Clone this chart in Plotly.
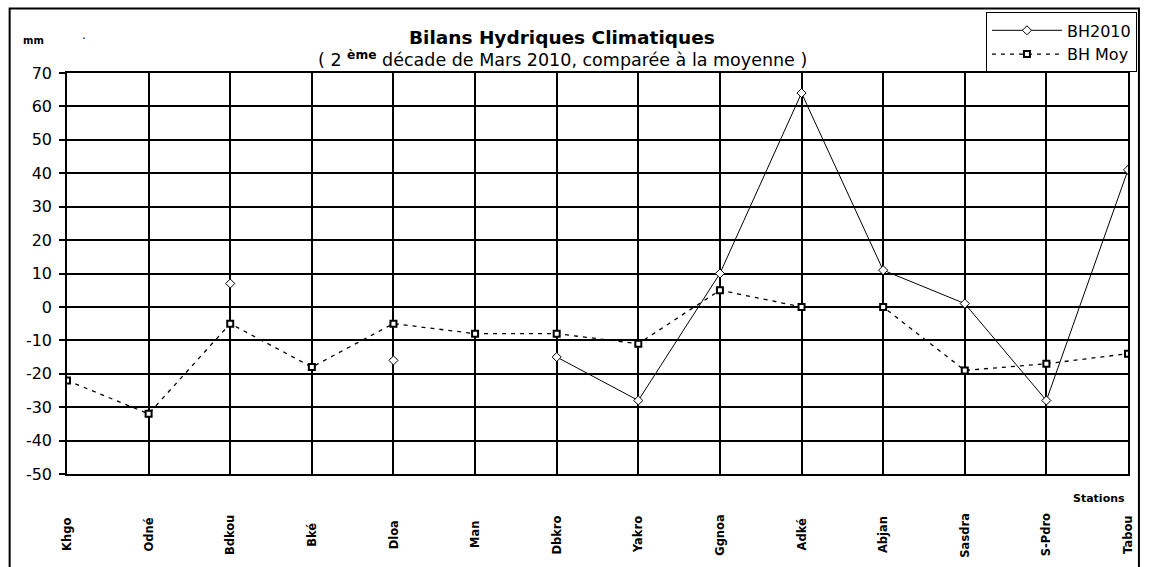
import plotly.graph_objects as go

stations = ["Khgo", "Odné", "Bdkou", "Bké", "Dloa", "Man", "Dbkro", "Yakro",
            "Ggnoa", "Adké", "Abjan", "Sasdra", "S-Pdro", "Tabou"]
bh2010 = [None, None, 7, None, -16, None, -15, -28, 10, 64, 11, 1, -28, 41]
bh_moy = [-22, -32, -5, -18, -5, -8, -8, -11, 5, 0, 0, -19, -17, -14]
y_ticks = list(range(-50, 71, 10))

W, H = 1149, 567
L, R, T, B = 66.7, 15, 70, 93.3
pw, ph = W - L - R, H - T - B

def px(x):
    return (x - L) / pw

def py(y):
    return (H - B - y) / ph

xs = list(range(len(stations)))

fig = go.Figure()
fig.add_trace(go.Scatter(
    x=xs, y=bh2010, name="BH2010", mode="lines+markers",
    line=dict(color="black", width=1),
    marker=dict(symbol="diamond", size=7, color="white", line=dict(color="black", width=1)),
))
fig.add_trace(go.Scatter(
    x=xs, y=bh_moy, name="BH Moy", mode="lines+markers",
    line=dict(color="black", width=1.3, dash="4px,5px"),
    marker=dict(symbol="square", size=6, color="white", line=dict(color="black", width=2)),
))

annotations = []
for i, s in enumerate(stations):
    annotations.append(dict(
        x=i, xref="x", y=py(535), yref="paper", text=s, showarrow=False,
        textangle=-90, xanchor="center", yanchor="middle",
        font=dict(family="DejaVu Sans", size=11.5, color="black", weight="bold"),
    ))
annotations += [
    dict(x=px(565), y=py(34), xref="paper", yref="paper", showarrow=False,
         text="<b>Bilans Hydriques Climatiques</b>", xanchor="center", yanchor="middle",
         font=dict(family="DejaVu Sans", size=18.5, color="black")),
    dict(x=px(565), y=py(56), xref="paper", yref="paper", showarrow=False,
         text="( 2 <sup><b>ème</b></sup> décade de Mars 2010, comparée à la moyenne )",
         xanchor="center", yanchor="middle",
         font=dict(family="DejaVu Sans", size=17.5, color="black")),
    dict(x=px(33), y=py(37), xref="paper", yref="paper", showarrow=False,
         text="<b>mm</b>", xanchor="center", yanchor="middle",
         font=dict(family="DejaVu Sans", size=10, color="black")),
    dict(x=px(84), y=py(36), xref="paper", yref="paper", showarrow=False,
         text="·", xanchor="center", yanchor="middle",
         font=dict(family="DejaVu Sans", size=12, color="black")),
    dict(x=px(1133), y=py(498), xref="paper", yref="paper", showarrow=False,
         text="Stations", xanchor="right", yanchor="middle",
         font=dict(family="DejaVu Sans", size=11, color="black", weight="bold")),
]

fig.update_layout(
    width=W, height=H,
    margin=dict(l=L, r=R, t=T, b=B, pad=0),
    paper_bgcolor="white", plot_bgcolor="white",
    font=dict(family="DejaVu Sans", color="black"),
    showlegend=True,
    legend=dict(
        x=px(1143), y=py(9), xanchor="right", yanchor="top",
        bordercolor="black", borderwidth=1, bgcolor="white",
        font=dict(family="DejaVu Sans", size=16, color="black"),
        itemwidth=70, tracegroupgap=0,
    ),
    annotations=annotations,
    shapes=[dict(type="rect", xref="paper", yref="paper",
                 x0=px(9), x1=px(1145), y0=py(600), y1=py(5),
                 line=dict(color="black", width=2), layer="below")],
    xaxis=dict(
        range=[0, len(stations) - 1], tickvals=xs, showticklabels=False,
        showgrid=True, gridcolor="black", gridwidth=1.5,
        showline=True, linecolor="black", linewidth=1.5, mirror=True,
        zeroline=False, ticks="",
    ),
    yaxis=dict(
        range=[-50, 70], tickvals=y_ticks, ticktext=[str(v) for v in y_ticks],
        showgrid=True, gridcolor="black", gridwidth=1.5,
        showline=True, linecolor="black", linewidth=1.5, mirror=True,
        zeroline=False, ticks="outside", ticklen=6, tickcolor="black", tickwidth=1.5,
        tickfont=dict(family="DejaVu Sans", size=16, color="black"),
        ticklabelstandoff=4,
    ),
)

fig.write_html("out.html", config={"displayModeBar": False},
               post_script="document.body.style.margin='0';document.body.style.padding='0';")
